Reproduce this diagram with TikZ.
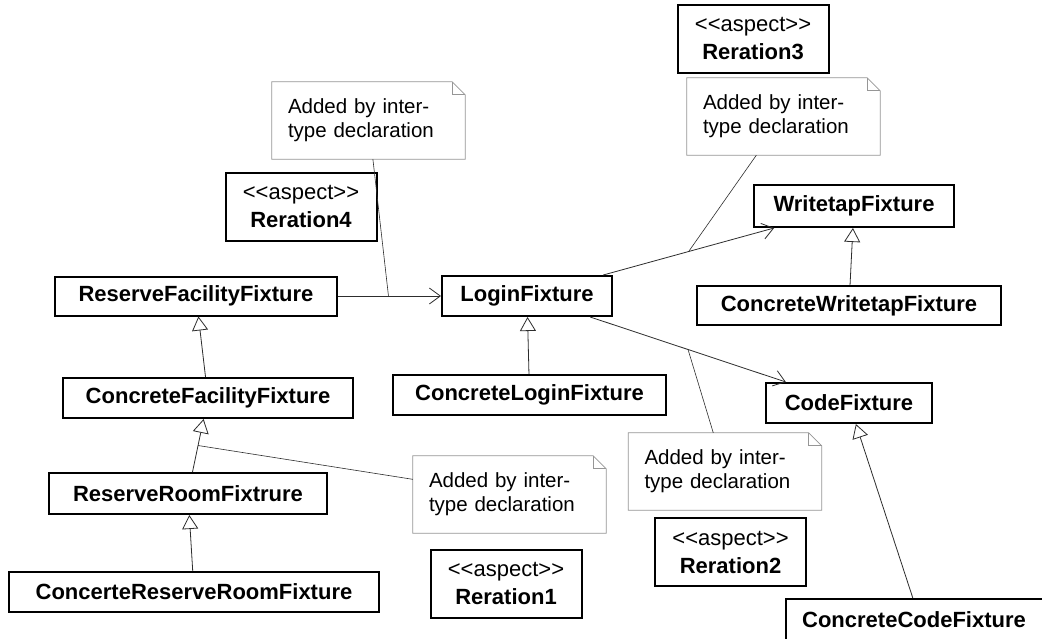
\documentclass[tikz,border=0pt]{standalone}
\usepackage{fontspec}
\setmainfont{Liberation Sans}
\usetikzlibrary{arrows.meta}
\definecolor{mydark}{RGB}{45,45,45}
\definecolor{mynote}{RGB}{150,150,150}
\newcommand{\stereo}[1]{<{}<#1>{}>}
\tikzset{
  classbox/.style={rectangle, draw=black, fill=white, line width=2pt,
    inner sep=0pt, font=\fontsize{22}{26}\selectfont\bfseries},
  aspectbox/.style={rectangle, draw=black, fill=white, line width=2pt,
    align=center, inner sep=0pt, minimum width=151pt, minimum height=68pt,
    font=\fontsize{22}{28}\selectfont},
  notebox/.style={rectangle, fill=white, text width=161pt, inner xsep=16pt,
    inner ysep=0pt, align=left, minimum height=77pt,
    font=\fontsize{20.5}{24}\selectfont},
  notebdr/.style={draw=mynote, line width=0.8pt},
  genarrow/.style={-{Triangle[open, length=14pt, width=16pt]}, line width=0.8pt, color=mydark},
  assocarrow/.style={-{Straight Barb[length=11pt, width=16pt]}, line width=0.8pt, color=mydark},
  noteline/.style={line width=0.6pt, color=mydark}
}

\begin{document}
\begin{tikzpicture}[x=1pt, y=-1pt]
  \fill[white] (0,0) rectangle (1042,638);
  \useasboundingbox (0,0) rectangle (1042,638);

  % Class boxes
  \node[classbox, minimum width=282pt, minimum height=39pt] (rff) at (196,296) {ReserveFacilityFixture};
  \node[classbox, minimum width=290pt, minimum height=40pt] (cff) at (208,398) {ConcreteFacilityFixture};
  \node[classbox, minimum width=278pt, minimum height=41pt] (rrf) at (188,493.5) {ReserveRoomFixtrure};
  \node[classbox, minimum width=370pt, minimum height=40pt] (crrf) at (194,592) {ConcerteReserveRoomFixture};
  \node[classbox, minimum width=170pt, minimum height=40pt] (login) at (527,296) {LoginFixture};
  \node[classbox, minimum width=273pt, minimum height=40pt] (clogin) at (529.5,395) {ConcreteLoginFixture};
  \node[classbox, minimum width=200pt, minimum height=42pt] (wtap) at (854,206) {WritetapFixture};
  \node[classbox, minimum width=304pt, minimum height=39pt] (cwtap) at (849,305.5) {ConcreteWritetapFixture};
  \node[classbox, minimum width=166pt, minimum height=40pt] (code) at (849,403) {CodeFixture};
  \node[classbox, minimum width=268pt, minimum height=42pt] (ccode) at (920,620) {\hspace*{-12pt}ConcreteCodeFixture};

  % Aspects
  \node[aspectbox] (rer3) at (753,39) {\stereo{aspect}\\\textbf{Reration3}};
  \node[aspectbox] (rer4) at (301,206.5) {\stereo{aspect}\\\textbf{Reration4}};
  \node[aspectbox] (rer1) at (506,583.5) {\stereo{aspect}\\\textbf{Reration1}};
  \node[aspectbox] (rer2) at (730.5,552) {\stereo{aspect}\\\textbf{Reration2}};

  % Notes
  \node[notebox] (noteA) at (368.5,120.5) {Added by inter-\\type declaration};
  \node[notebox] (noteB) at (783.5,116.5) {Added by inter-\\type declaration};
  \node[notebox] (noteC) at (509.5,494.5) {Added by inter-\\type declaration};
  \node[notebox] (noteD) at (725,471.5) {Added by inter-\\type declaration};
  \foreach \n in {noteA,noteB,noteC,noteD}{
    \draw[notebdr] (\n.north west) -- ([xshift=-13pt]\n.north east)
      -- ([yshift=-13pt]\n.north east) -- (\n.south east) -- (\n.south west) -- cycle;
    \draw[notebdr] ([xshift=-13pt]\n.north east) |- ([yshift=-13pt]\n.north east);
  }

  % Associations
  \draw[assocarrow] (rff.east) -- (login.west) coordinate[pos=0.49] (j1);
  \draw[assocarrow] (login) -- (wtap) coordinate[pos=0.5] (j2);
  \draw[assocarrow] (login) -- (code) coordinate[pos=0.5] (j3);

  % Generalizations
  \draw[genarrow] (cff) -- (rff);
  \draw[genarrow] (rrf) -- (cff) coordinate[pos=0.5] (j4);
  \draw[genarrow] (crrf) -- (rrf);
  \draw[genarrow] (clogin) -- (login);
  \draw[genarrow] (cwtap) -- (wtap);
  \draw[genarrow] (ccode) -- (code);

  % Note links
  \draw[noteline] (noteA) -- (j1);
  \draw[noteline] (noteB) -- (j2);
  \draw[noteline] (noteD) -- (j3);
  \draw[noteline] (noteC) -- (j4);
\end{tikzpicture}
\end{document}
